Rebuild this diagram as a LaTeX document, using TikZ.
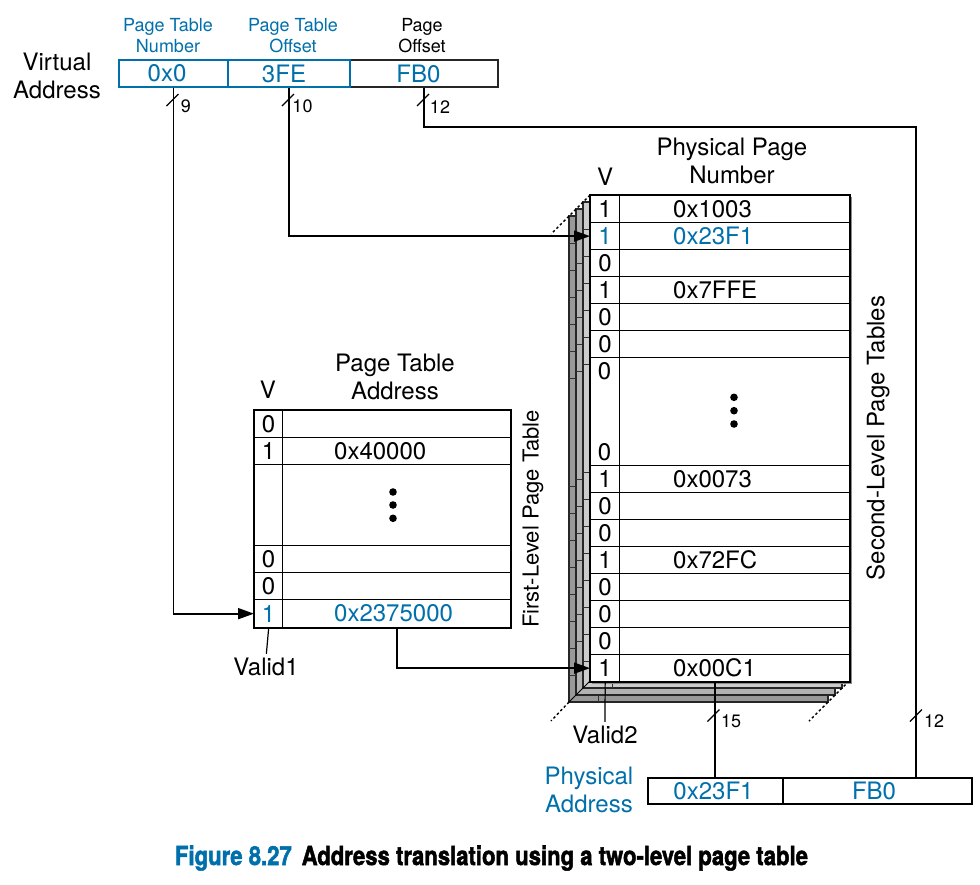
\documentclass[tikz,border=0pt]{standalone}
\usepackage{fontspec}
\usepackage{graphicx}
\setmainfont{TeX Gyre Heros}
\newfontfamily\capfont{TeX Gyre Heros}[BoldFeatures={FakeBold=2}]
\usetikzlibrary{arrows.meta}
\definecolor{pblue}{RGB}{0,112,172}
\definecolor{layA}{gray}{0.80}
\definecolor{layB}{gray}{0.70}
\definecolor{layC}{gray}{0.60}
\begin{document}
\begin{tikzpicture}[x=1pt,y=-1pt,
  txt/.style={inner sep=0pt, font=\fontsize{24}{28}\selectfont, align=center},
  small/.style={inner sep=0pt, font=\fontsize{18}{21}\selectfont, align=center},
  bus/.style={line width=1.8pt},
  arr/.style={bus, -{Triangle[length=16pt,width=11pt]}},
  slash/.style={line width=1.1pt},
  cell/.style={draw, line width=1.3pt, inner sep=0pt, anchor=north west, minimum height=27pt},
  vcellA/.style={cell, minimum width=28pt},
  pcellA/.style={cell, minimum width=228pt},
  vcellB/.style={cell, fill=white, minimum width=29pt},
  pcellB/.style={cell, fill=white, minimum width=230pt},
  frame/.style={line width=2pt},
  dotline/.style={line width=1.4pt, dash pattern=on 2.5pt off 2.5pt},
]
\useasboundingbox (0,0) rectangle (980,884);
\fill[white] (0,0) rectangle (980,884);

% ---------------- Virtual address ----------------
\node[txt] (valbl) at (57,76) {Virtual\\Address};
\node[small, text=pblue] (h1) at (168,35.5) {Page Table\\Number};
\node[small, text=pblue] (h2) at (293,35.5) {Page Table\\Offset};
\node[small] (h3) at (422,35.5) {Page\\Offset};
\node[cell, draw=black!85, line width=1.6pt, minimum width=148pt] (va3) at (349,59) {};
\node[cell, draw=pblue, line width=1.8pt, minimum width=109pt] (va1) at (118,59) {};
\node[cell, draw=pblue, line width=1.8pt, minimum width=122pt] (va2) at (227,59) {};
\node[txt, text=pblue] (va1t) at (167,73.5) {0x0};
\node[txt, text=pblue] (va2t) at (284,73.5) {3FE};
\node[txt, text=pblue] (va3t) at (418.5,73.5) {FB0};

% ---------------- First-level page table ----------------
\node[txt] (fV) at (268,390) {V};
\node[txt] (fH) at (395,377) {Page Table\\Address};
\foreach \n/\y/\h in {1/410/27, 2/437/27, 3/464/81, 4/545/27, 5/572/27, 6/599/28}{
  \node[vcellA, minimum height=\h pt] (f\n v) at (254,\y) {};
  \node[pcellA, minimum height=\h pt] (f\n p) at (282,\y) {};
}
\draw[frame] (f1v.north west) rectangle (f6p.south east);
\foreach \n/\t in {1/0, 2/1, 4/0, 5/0}{
  \node[txt] (f\n vt) at (f\n v.center) {\t};
}
\node[txt, text=pblue] (f6vt) at (f6v.center) {1};
\node[txt, anchor=west] (f2val) at ([xshift=52pt]f2p.west) {0x40000};
\node[txt, anchor=west, text=pblue] (f6val) at ([xshift=52pt]f6p.west) {0x2375000};
\foreach \yy in {492,505,518.3} \fill (393,\yy) circle (3.8pt);
\node[txt, rotate=90, font=\fontsize{22}{26}\selectfont] (flpt) at (533,519) {First-Level Page Table};
\node[txt] (v1lbl) at (266,667) {Valid1};
\draw[line width=1.2pt, shorten >=4pt] (f6v.south) -- (v1lbl.north);

% ---------------- Second-level page tables ----------------
\node[txt] (sV) at (605,177) {V};
\node[txt] (sH) at (732,161) {Physical Page\\Number};
\foreach \k/\c in {3/layC, 2/layB, 1/layA}{
  \begin{scope}[shift={(-7*\k,7*\k)}]
    \filldraw[fill=\c, draw=black!85, line width=1.3pt] (590,195) rectangle (849,681);
    \draw[line width=0.8pt, black!80] (619,195) -- (619,681);
    \foreach \yy in {222,249,276,303,330,357,465,492,519,546,573,600,627,654}
      \draw[line width=0.8pt, black!80] (590,\yy) -- (849,\yy);
  \end{scope}
}
\draw[line width=1pt] (590,681) -- (569,702);
\draw[dotline] (569,702) -- (551,721);
\draw[dotline] (590,195) -- (551,234);
\draw[dotline] (849,681) -- (809,721);
\draw[line width=1.5pt, black!45] (851.5,197) -- (851.5,683.5) -- (592,683.5);
\foreach \n/\y/\h in {1/195/27, 2/222/27, 3/249/27, 4/276/27, 5/303/27, 6/330/27, 7/357/108,
  8/465/27, 9/492/27, 10/519/27, 11/546/27, 12/573/27, 13/600/27, 14/627/27, 15/654/27}{
  \node[vcellB, minimum height=\h pt] (s\n v) at (590,\y) {};
  \node[pcellB, minimum height=\h pt] (s\n p) at (619,\y) {};
}
\draw[frame] (s1v.north west) rectangle (s15p.south east);
\foreach \n/\t in {1/1, 3/0, 4/1, 5/0, 6/0, 8/1, 9/0, 10/0, 11/1, 12/0, 13/0, 14/0, 15/1}{
  \node[txt] (s\n vt) at (s\n v.center) {\t};
}
\node[txt, text=pblue] (s2vt) at (s2v.center) {1};
\node[txt] (s7vta) at (604.5,371) {0};
\node[txt] (s7vtb) at (604.5,452) {0};
\node[txt, anchor=west] (s1val) at ([xshift=54pt]s1p.west) {0x1003};
\node[txt, anchor=west, text=pblue] (s2val) at ([xshift=54pt]s2p.west) {0x23F1};
\node[txt, anchor=west] (s4val) at ([xshift=54pt]s4p.west) {0x7FFE};
\node[txt, anchor=west] (s8val) at ([xshift=54pt]s8p.west) {0x0073};
\node[txt, anchor=west] (s11val) at ([xshift=54pt]s11p.west) {0x72FC};
\node[txt, anchor=west] (s15val) at ([xshift=54pt]s15p.west) {0x00C1};
\foreach \yy in {397.3,410.7,424} \fill (734,\yy) circle (3.8pt);
\node[txt] (slpt) at (878,438) [rotate=90] {Second-Level Page Tables};
\node[txt] (v2lbl) at (605,735) {Valid2};
\draw[line width=1.2pt, shorten >=4pt] (s15v.south) -- (v2lbl.north);

% ---------------- Physical address ----------------
\node[txt, text=pblue] (palbl) at (589,790) {Physical\\Address};
\node[cell, line width=1.5pt, minimum width=135pt, minimum height=26pt] (pa1) at (647,777) {};
\node[cell, line width=1.5pt, minimum width=189pt, minimum height=26pt] (pa2) at (782,777) {};
\node[txt, text=pblue] (pa1t) at (713.5,791) {0x23F1};
\node[txt, text=pblue] (pa2t) at (874,791) {FB0};
\coordinate (fbturn) at (916,127);
\coordinate (pa2in) at (916,777);

% ---------------- Connectors ----------------
\draw[arr] (va1.south) |- (f6v.west);
\draw[arr] (va2.south) |- (s2v.west);
\draw[bus] (va3.south) |- (fbturn) -- (pa2in);
\draw[arr] (f6p.south) |- (s15v.west);
\draw[bus] (pa1.north |- s15p.south) -- (pa1.north);

% bus width marks
\draw[slash] (166.5,106) -- (178.5,94);
\node[small] (w9) at (186,106.7) {9};
\draw[slash] (282,106) -- (294,94);
\node[small] (w10) at (302.5,106.7) {10};
\draw[slash] (417,106) -- (429,94);
\node[small] (w12a) at (440,106.7) {12};
\draw[slash] (707.5,721.5) -- (719.5,709.5);
\node[small] (w15) at (731,721.5) {15};
\draw[slash] (910,721.5) -- (922,709.5);
\node[small] (w12b) at (934,721.5) {12};

% ---------------- Caption ----------------
\node[inner sep=0pt, anchor=base] (cap) at (491.5,865) {\resizebox{633pt}{19.5pt}{\capfont\bfseries\textcolor{pblue}{Figure 8.27}\hspace{0.45em}Address translation using a two-level page table}};
\end{tikzpicture}
\end{document}
